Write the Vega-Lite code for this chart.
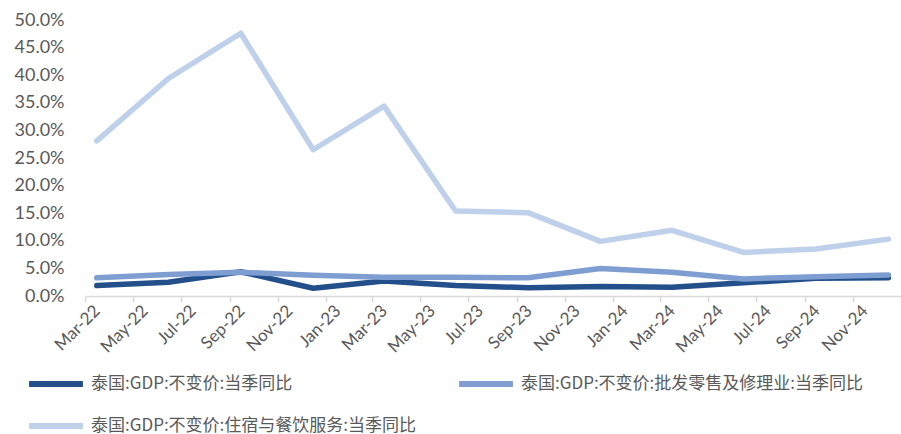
{
  "$schema": "https://vega.github.io/schema/vega-lite/v6.json",
  "autosize": "none",
  "width": 816,
  "height": 276,
  "padding": {"left": 85, "top": 20, "right": 0, "bottom": 138},
  "background": "white",
  "config": {"view": {"stroke": null}},
  "data": {
    "values": [
      {"date": "2022-03-16", "series": "泰国:GDP:不变价:当季同比", "value": 0.019},
      {"date": "2022-06-15", "series": "泰国:GDP:不变价:当季同比", "value": 0.025},
      {"date": "2022-09-15", "series": "泰国:GDP:不变价:当季同比", "value": 0.044},
      {"date": "2022-12-16", "series": "泰国:GDP:不变价:当季同比", "value": 0.014},
      {"date": "2023-03-16", "series": "泰国:GDP:不变价:当季同比", "value": 0.027},
      {"date": "2023-06-15", "series": "泰国:GDP:不变价:当季同比", "value": 0.019},
      {"date": "2023-09-15", "series": "泰国:GDP:不变价:当季同比", "value": 0.015},
      {"date": "2023-12-16", "series": "泰国:GDP:不变价:当季同比", "value": 0.017},
      {"date": "2024-03-16", "series": "泰国:GDP:不变价:当季同比", "value": 0.016},
      {"date": "2024-06-15", "series": "泰国:GDP:不变价:当季同比", "value": 0.024},
      {"date": "2024-09-15", "series": "泰国:GDP:不变价:当季同比", "value": 0.032},
      {"date": "2024-12-16", "series": "泰国:GDP:不变价:当季同比", "value": 0.033},
      {"date": "2022-03-16", "series": "泰国:GDP:不变价:批发零售及修理业:当季同比", "value": 0.033},
      {"date": "2022-06-15", "series": "泰国:GDP:不变价:批发零售及修理业:当季同比", "value": 0.039},
      {"date": "2022-09-15", "series": "泰国:GDP:不变价:批发零售及修理业:当季同比", "value": 0.043},
      {"date": "2022-12-16", "series": "泰国:GDP:不变价:批发零售及修理业:当季同比", "value": 0.0375},
      {"date": "2023-03-16", "series": "泰国:GDP:不变价:批发零售及修理业:当季同比", "value": 0.034},
      {"date": "2023-06-15", "series": "泰国:GDP:不变价:批发零售及修理业:当季同比", "value": 0.034},
      {"date": "2023-09-15", "series": "泰国:GDP:不变价:批发零售及修理业:当季同比", "value": 0.033},
      {"date": "2023-12-16", "series": "泰国:GDP:不变价:批发零售及修理业:当季同比", "value": 0.050},
      {"date": "2024-03-16", "series": "泰国:GDP:不变价:批发零售及修理业:当季同比", "value": 0.043},
      {"date": "2024-06-15", "series": "泰国:GDP:不变价:批发零售及修理业:当季同比", "value": 0.031},
      {"date": "2024-09-15", "series": "泰国:GDP:不变价:批发零售及修理业:当季同比", "value": 0.035},
      {"date": "2024-12-16", "series": "泰国:GDP:不变价:批发零售及修理业:当季同比", "value": 0.038},
      {"date": "2022-03-16", "series": "泰国:GDP:不变价:住宿与餐饮服务:当季同比", "value": 0.281},
      {"date": "2022-06-15", "series": "泰国:GDP:不变价:住宿与餐饮服务:当季同比", "value": 0.394},
      {"date": "2022-09-15", "series": "泰国:GDP:不变价:住宿与餐饮服务:当季同比", "value": 0.476},
      {"date": "2022-12-16", "series": "泰国:GDP:不变价:住宿与餐饮服务:当季同比", "value": 0.265},
      {"date": "2023-03-16", "series": "泰国:GDP:不变价:住宿与餐饮服务:当季同比", "value": 0.344},
      {"date": "2023-06-15", "series": "泰国:GDP:不变价:住宿与餐饮服务:当季同比", "value": 0.154},
      {"date": "2023-09-15", "series": "泰国:GDP:不变价:住宿与餐饮服务:当季同比", "value": 0.151},
      {"date": "2023-12-16", "series": "泰国:GDP:不变价:住宿与餐饮服务:当季同比", "value": 0.099},
      {"date": "2024-03-16", "series": "泰国:GDP:不变价:住宿与餐饮服务:当季同比", "value": 0.119},
      {"date": "2024-06-15", "series": "泰国:GDP:不变价:住宿与餐饮服务:当季同比", "value": 0.079},
      {"date": "2024-09-15", "series": "泰国:GDP:不变价:住宿与餐饮服务:当季同比", "value": 0.085},
      {"date": "2024-12-16", "series": "泰国:GDP:不变价:住宿与餐饮服务:当季同比", "value": 0.103}
    ]
  },
  "mark": {"type": "line", "strokeWidth": 5.5, "strokeJoin": "round", "strokeCap": "round"},
  "encoding": {
    "x": {
      "field": "date",
      "type": "temporal",
      "scale": {"domain": ["2022-03-01T00:00:00", "2025-01-01T00:00:00"], "nice": false},
      "axis": {
        "title": null,
        "tickCount": {"interval": "month", "step": 2},
        "labelExpr": "datum.value >= time('2024-12-15T00:00:00') ? '' : timeFormat(datum.value, '%b-%y')",
        "labelAngle": -45,
        "labelAlign": "right",
        "labelBaseline": "middle",
        "labelOffset": 12,
        "labelPadding": 6,
        "labelFont": "Lato",
        "labelFontSize": 17,
        "labelColor": "#595959",
        "labelOverlap": false,
        "labelBound": false,
        "labelFlush": false,
        "grid": false,
        "domainColor": "#d9d9d9",
        "domainWidth": 1.5,
        "tickColor": "#d9d9d9",
        "tickWidth": 1.5,
        "tickSize": 6
      }
    },
    "y": {
      "field": "value",
      "type": "quantitative",
      "scale": {"domain": [0, 0.5], "nice": false},
      "axis": {
        "title": null,
        "format": ".1%",
        "values": [0, 0.05, 0.1, 0.15, 0.2, 0.25, 0.3, 0.35, 0.4, 0.45, 0.5],
        "domain": false,
        "ticks": false,
        "grid": false,
        "labelPadding": 21,
        "labelFont": "Lato",
        "labelFontSize": 18,
        "labelColor": "#595959"
      }
    },
    "color": {
      "field": "series",
      "type": "nominal",
      "sort": null,
      "scale": {
        "domain": ["泰国:GDP:不变价:当季同比", "泰国:GDP:不变价:住宿与餐饮服务:当季同比", "泰国:GDP:不变价:批发零售及修理业:当季同比"],
        "range": ["#23508A", "#BFD0EA", "#7E9ED2"]
      },
      "legend": {
        "title": null,
        "orient": "none",
        "legendX": -59,
        "legendY": 334,
        "columns": 2,
        "columnPadding": 30,
        "rowPadding": -21,
        "symbolType": "stroke",
        "symbolSize": 2900,
        "symbolStrokeWidth": 6,
        "labelOffset": 5,
        "labelFont": "Noto Sans CJK SC",
        "labelFontSize": 17,
        "labelColor": "#595959",
        "labelLimit": 600
      }
    }
  }
}
